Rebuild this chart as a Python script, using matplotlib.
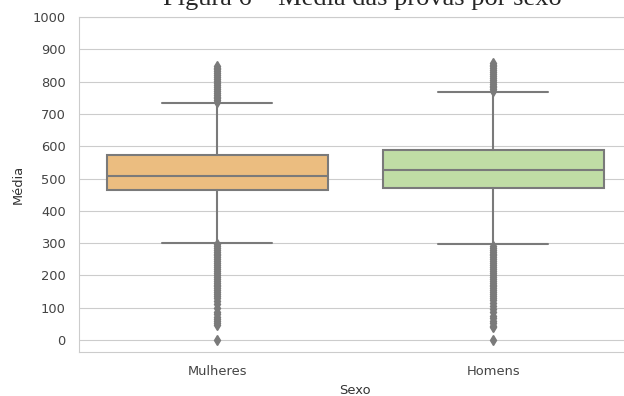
import matplotlib
matplotlib.use("Agg")
import seaborn as sns
from matplotlib import pyplot as plt

sns.set_style("whitegrid")
plt.rcParams['font.family'] = ['DejaVu Sans']

sexo = ['Mulheres', 'Homens']
cores = ['#ebbd80', '#c0dda5']

# estatisticas das medias por sexo
q1 = [464, 470]
mediana = [508, 528]
q3 = [572, 589]
whis_inf = [302, 296]
whis_sup = [733, 767]

# outliers (acima e abaixo dos bigodes)
out_mulheres = [736, 742, 748, 754, 760, 766, 772, 778, 784, 790, 796, 802, 808,
                814, 820, 826, 832, 838, 843, 848,
                298, 292, 286, 280, 274, 268, 262, 256, 250, 244, 238, 232, 226,
                220, 214, 208, 202, 196, 190, 184, 178, 172, 166, 160, 154, 148,
                142, 136, 130, 122, 112, 100, 88, 80, 72, 65, 58, 52, 46, 0]
out_homens = [770, 776, 782, 788, 794, 800, 806, 812, 818, 824, 830, 836, 842,
              848, 853, 858,
              292, 286, 280, 274, 268, 262, 256, 250, 244, 238, 232, 226, 220,
              214, 208, 202, 196, 190, 184, 178, 172, 166, 160, 154, 148, 142,
              136, 130, 124, 116, 106, 96, 86, 76, 68, 60, 52, 45, 40, 0]
outliers = [out_mulheres, out_homens]

stats = []
for i in range(len(sexo)):
    stats.append({'label': sexo[i], 'q1': q1[i], 'med': mediana[i], 'q3': q3[i],
                  'whislo': whis_inf[i], 'whishi': whis_sup[i], 'fliers': outliers[i]})

fig = plt.figure(figsize=(6.24, 3.96), dpi=100)
ax = fig.add_axes([0.1266, 0.111, 0.885, 0.846])

cinza = '#7a7a7a'
bp = ax.bxp(stats, positions=[0, 1], widths=0.8, patch_artist=True,
            boxprops=dict(edgecolor=cinza, linewidth=1.5),
            medianprops=dict(color=cinza, linewidth=1.5),
            whiskerprops=dict(color=cinza, linewidth=1.5),
            capprops=dict(color=cinza, linewidth=1.5),
            flierprops=dict(marker='d', markersize=5, markerfacecolor=cinza,
                            markeredgecolor=cinza, linestyle='none'),
            capwidths=0.4)
for caixa, cor in zip(bp['boxes'], cores):
    caixa.set_facecolor(cor)

ax.set_xlim(-0.5, 1.5)
ax.set_ylim(-37, 1000)
ax.set_yticks(range(0, 1001, 100))
ax.set_xticks([0, 1])
ax.set_xticklabels(sexo)
ax.grid(axis='x', visible=False)
ax.tick_params(axis='both', labelsize=9.4, colors='#444444', pad=9.5, length=0)
ax.set_xlabel('Sexo', fontsize=9.4, color='#333333', labelpad=4)
ax.set_ylabel('Média', fontsize=9.4, color='#333333', labelpad=6)

# legenda da figura, parcialmente cortada no topo
fig.text(0.58, 0.988, 'Figura 6 – Média das provas por sexo', ha='center',
         va='baseline', fontsize=19, family=['Liberation Serif'])

fig.savefig('out.png', dpi=100)
